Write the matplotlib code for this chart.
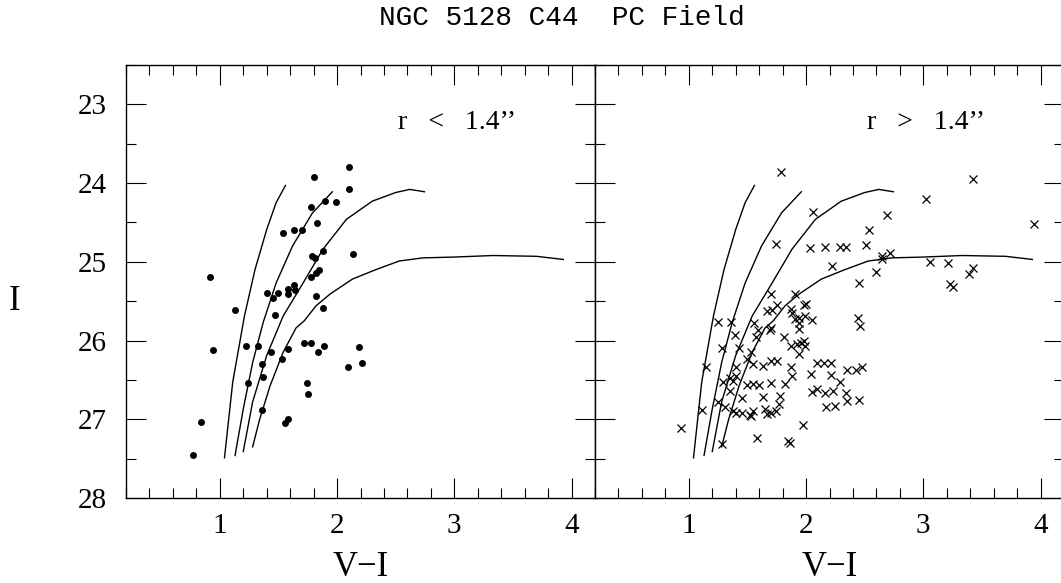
import matplotlib
matplotlib.use("Agg")
import matplotlib.pyplot as plt
from matplotlib.ticker import MultipleLocator

plt.rcParams['font.family'] = ['Liberation Serif', 'DejaVu Serif']

# inner sample (r < 1.4")
vi_in = [2.10, 1.80, 2.10, 1.90, 1.99, 1.78, 1.83, 1.54, 1.63, 1.70, 1.88, 2.14, 1.79,
         1.81, 1.85, 1.82, 1.78, 0.92, 1.82, 1.13, 1.40, 1.45, 1.50, 1.58, 1.58, 1.63,
         1.64, 1.47, 1.88, 0.94, 1.22, 1.33, 1.44, 1.58, 1.53, 1.72, 1.78, 1.84, 1.89,
         2.19, 1.36, 1.37, 2.09, 2.21, 1.24, 1.74, 1.75, 1.36, 0.84, 1.58, 1.56, 0.77]
i_in = [23.80, 23.92, 24.08, 24.23, 24.24, 24.30, 24.51, 24.63, 24.59, 24.59, 24.86, 24.90,
        24.93, 24.95, 25.10, 25.14, 25.19, 25.19, 25.43, 25.61, 25.39, 25.46, 25.39, 25.34,
        25.41, 25.30, 25.36, 25.67, 25.59, 26.12, 26.07, 26.07, 26.14, 26.11, 26.24, 26.03,
        26.03, 26.15, 26.07, 26.08, 26.30, 26.46, 26.34, 26.29, 26.54, 26.54, 26.68, 26.88,
        27.04, 27.00, 27.05, 27.46]

# outer sample (r > 1.4")
vi_out = [1.79, 3.42, 3.02, 2.06, 2.69, 3.94, 2.54, 1.74, 2.03, 2.16, 2.29, 2.34, 2.51,
          2.72, 2.65, 2.65, 3.06, 3.21, 2.22, 2.60, 3.42, 3.39, 3.23, 3.25, 2.45,
          1.70, 1.91, 2.00, 1.98, 1.75, 1.67, 1.71, 1.87, 1.88, 1.91, 1.94, 1.99, 2.05,
          1.94, 1.94, 2.44, 2.46, 1.56, 1.59, 1.70, 1.69, 1.57, 1.81, 1.87, 1.92, 1.96,
          1.98, 1.94, 1.99, 1.53, 1.50, 1.55, 1.63, 1.70, 1.75, 1.87, 1.88, 2.04, 2.09,
          2.15, 2.21, 2.21, 2.35, 2.43, 2.48, 2.29, 1.25, 1.36, 1.39, 1.28, 1.43, 1.15,
          1.40, 1.35, 1.40, 1.38, 1.29, 1.35, 1.50, 1.55, 1.60, 1.70, 1.82, 1.45, 1.63,
          1.78, 1.77, 1.25, 1.31, 1.38, 1.40, 1.45, 1.52, 1.53, 1.55, 1.65, 1.67, 1.70,
          1.74, 2.05, 2.09, 2.16, 2.23, 2.34, 2.35, 2.45, 2.17, 2.25, 1.11, 0.93, 1.28,
          1.58, 1.85, 1.86, 1.97]
i_out = [23.86, 23.95, 24.20, 24.37, 24.40, 24.52, 24.59, 24.77, 24.83, 24.81, 24.81, 24.81,
         24.79, 24.89, 24.93, 24.97, 25.00, 25.01, 25.05, 25.13, 25.08, 25.15, 25.28, 25.32,
         25.27, 25.41, 25.41, 25.53, 25.55, 25.55, 25.63, 25.61, 25.60, 25.65, 25.73, 25.71,
         25.69, 25.74, 25.78, 25.85, 25.71, 25.81, 25.78, 25.87, 25.84, 25.87, 25.96, 25.96,
         26.07, 26.05, 26.03, 26.00, 26.17, 26.07, 26.14, 26.23, 26.30, 26.32, 26.26, 26.26,
         26.34, 26.45, 26.42, 26.28, 26.28, 26.28, 26.44, 26.38, 26.38, 26.33, 26.53, 25.76,
         25.76, 25.93, 26.10, 26.10, 26.33, 26.34, 26.47, 26.45, 26.51, 26.53, 26.64, 26.57,
         26.55, 26.57, 26.54, 26.55, 26.73, 26.72, 26.70, 26.81, 26.78, 26.85, 26.89, 26.92,
         26.92, 26.94, 26.96, 26.89, 26.87, 26.93, 26.92, 26.90, 26.65, 26.62, 26.67, 26.64,
         26.66, 26.77, 26.76, 26.85, 26.83, 26.88, 27.11, 27.32, 27.24, 27.28, 27.30, 27.07]

# isochrone tracks
trk1_vi = [1.04, 1.11, 1.21, 1.30, 1.40, 1.48, 1.56]
trk1_i = [27.49, 26.53, 25.69, 25.10, 24.59, 24.25, 24.03]
trk2_vi = [1.13, 1.20, 1.28, 1.37, 1.48, 1.62, 1.79, 1.96]
trk2_i = [27.46, 26.87, 26.28, 25.77, 25.27, 24.80, 24.38, 24.11]
trk3_vi = [1.20, 1.28, 1.40, 1.54, 1.71, 1.88, 2.08, 2.30, 2.50, 2.62, 2.745]
trk3_i = [27.41, 26.78, 26.19, 25.69, 25.27, 24.84, 24.46, 24.23, 24.12, 24.08, 24.11]
trk4_vi = [1.28, 1.34, 1.43, 1.54, 1.65, 1.72, 1.82, 1.94, 2.13, 2.33, 2.53, 2.73, 2.99,
           3.33, 3.70, 3.93]
trk4_i = [27.35, 27.00, 26.57, 26.15, 25.84, 25.75, 25.56, 25.41, 25.22, 25.10, 24.99,
          24.95, 24.94, 24.92, 24.93, 24.97]
tracks = [(trk1_vi, trk1_i), (trk2_vi, trk2_i), (trk3_vi, trk3_i), (trk4_vi, trk4_i)]

W, H = 1061, 583
fig = plt.figure(figsize=(W / 100, H / 100), dpi=100)
ax1 = fig.add_axes([126 / W, 1 - 498 / H, 469 / W, 433 / H])
ax2 = fig.add_axes([595 / W, 1 - 498 / H, 469 / W, 433 / H])

ax1.plot(vi_in, i_in, 'o', color='black', markersize=5, markeredgewidth=0)
ax2.plot(vi_out, i_out, 'x', color='black', markersize=5.5, markeredgewidth=0.9)

for ax, lab in [(ax1, 'r   <   1.4\u2019\u2019'), (ax2, 'r   >   1.4\u2019\u2019')]:
    for tv, ti in tracks:
        ax.plot(tv, ti, color='black', linewidth=1.0)
    ax.set_xlim(0.2, 4.2)
    ax.set_ylim(28, 22.5)
    ax.xaxis.set_major_locator(MultipleLocator(1))
    ax.xaxis.set_minor_locator(MultipleLocator(0.2))
    ax.yaxis.set_major_locator(MultipleLocator(1))
    ax.yaxis.set_minor_locator(MultipleLocator(0.5))
    ax.tick_params(which='both', direction='in', top=True, right=True, width=0.8)
    ax.tick_params(which='major', length=14.4, labelsize=21)
    ax.tick_params(which='minor', length=7.2)
    ax.tick_params(axis='x', pad=11)
    ax.tick_params(axis='y', pad=14)
    for s in ax.spines.values():
        s.set_linewidth(1.0)
    ax.text(2.52, 23.31, lab, fontsize=20, ha='left', va='baseline')
    xc = (ax.get_position().x0 + ax.get_position().x1) / 2
    fig.text(xc, 1 - 576 / H, 'V\u2212I', fontsize=25, ha='center', va='baseline')

ax2.tick_params(axis='y', labelleft=False)

fig.text(15 / W, 1 - 310 / H, 'I', fontsize=25, ha='center', va='baseline')
fig.text(561.5 / W, 1 - 25 / H, 'NGC 5128 C44  PC Field', fontsize=20,
         family='Liberation Mono', ha='center', va='baseline')

fig.savefig('out.png', dpi=100)
